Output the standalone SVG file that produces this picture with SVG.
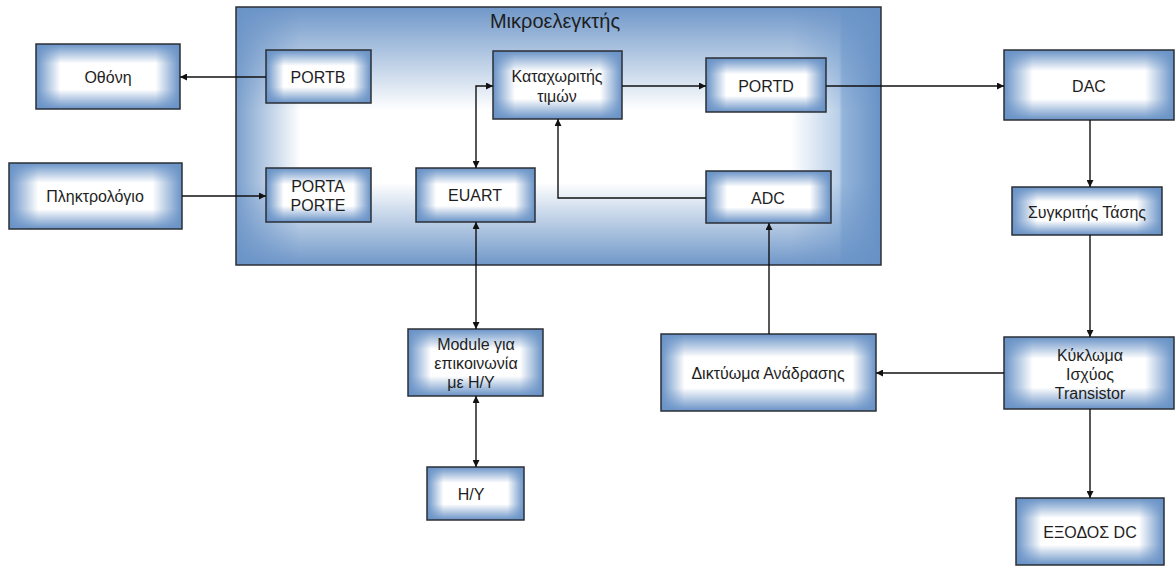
<svg xmlns="http://www.w3.org/2000/svg" width="1175" height="566" viewBox="0 0 1175 566">
<defs>
<linearGradient id="gh" x1="0" y1="0" x2="1" y2="0">
<stop offset="0" stop-color="#6892c6"/><stop offset="0.17" stop-color="#ffffff"/><stop offset="0.83" stop-color="#ffffff"/><stop offset="1" stop-color="#6892c6"/>
</linearGradient>
<linearGradient id="ghw" x1="0" y1="0" x2="1" y2="0">
<stop offset="0" stop-color="#6892c6"/><stop offset="0.11" stop-color="#ffffff"/><stop offset="0.89" stop-color="#ffffff"/><stop offset="1" stop-color="#6892c6"/>
</linearGradient>
<linearGradient id="gv" x1="0" y1="0" x2="0" y2="1">
<stop offset="0" stop-color="#6892c6" stop-opacity="1"/><stop offset="0.3" stop-color="#6892c6" stop-opacity="0"/><stop offset="0.7" stop-color="#6892c6" stop-opacity="0"/><stop offset="1" stop-color="#6892c6" stop-opacity="1"/>
</linearGradient>
<linearGradient id="ch" x1="0" y1="0" x2="1" y2="0">
<stop offset="0" stop-color="#7ba0cd"/><stop offset="0.1" stop-color="#ffffff"/><stop offset="0.86" stop-color="#ffffff"/><stop offset="0.935" stop-color="#b9cfe8"/><stop offset="0.94" stop-color="#95b5da"/><stop offset="1" stop-color="#6892c6"/>
</linearGradient>
<linearGradient id="cv" x1="0" y1="0" x2="0" y2="1">
<stop offset="0" stop-color="#6892c6" stop-opacity="0.95"/><stop offset="0.4" stop-color="#6892c6" stop-opacity="0"/><stop offset="0.68" stop-color="#6892c6" stop-opacity="0"/><stop offset="1" stop-color="#6892c6" stop-opacity="0.95"/>
</linearGradient>
<marker id="ar" viewBox="0 0 10 10" refX="10" refY="5" markerWidth="8" markerHeight="7" markerUnits="userSpaceOnUse" orient="auto-start-reverse">
<path d="M0,0 L10,5 L0,10 z" fill="#111"/>
</marker>
<style>
.bh{fill:url(#gh)}
.bhw{fill:url(#ghw)}
.bv{fill:url(#gv);stroke:#2b2f36;stroke-width:1.5}
.t{font-family:"Liberation Sans",Arial,sans-serif;font-size:16px;fill:#1e1e1e;text-anchor:middle;dominant-baseline:central}
.ttl{font-size:20px}
.c{fill:none;stroke:#111;stroke-width:1.4}
</style>
</defs>

<g id="mikroelegktis">
<rect x="236" y="7" width="645" height="258" fill="url(#ch)"/>
<rect x="236" y="7" width="645" height="258" fill="url(#cv)" stroke="#2b2f36" stroke-width="1.5"/>
<text class="t ttl" x="555" y="21">Μικροελεγκτής</text>
</g>

<g id="othoni"><rect class="bh" x="36" y="44" width="144" height="65"/><rect class="bv" x="36" y="44" width="144" height="65"/><text class="t" x="108" y="77">Οθόνη</text></g>
<g id="pliktrologio"><rect class="bh" x="9" y="163" width="173" height="66"/><rect class="bv" x="9" y="163" width="173" height="66"/><text class="t" x="95" y="196">Πληκτρολόγιο</text></g>
<g id="portb"><rect class="bh" x="266" y="50" width="105" height="53"/><rect class="bv" x="266" y="50" width="105" height="53"/><text class="t" x="318" y="77">PORTB</text></g>
<g id="porta"><rect class="bh" x="266" y="168" width="105" height="54"/><rect class="bv" x="266" y="168" width="105" height="54"/><text class="t" x="318" y="186">PORTA</text><text class="t" x="318" y="205">PORTE</text></g>
<g id="kataxoritis"><rect class="bh" x="493" y="51" width="129" height="68"/><rect class="bv" x="493" y="51" width="129" height="68"/><text class="t" x="557" y="76">Καταχωριτής</text><text class="t" x="557" y="96">τιμών</text></g>
<g id="portd"><rect class="bh" x="706" y="58" width="120" height="54"/><rect class="bv" x="706" y="58" width="120" height="54"/><text class="t" x="766" y="86">PORTD</text></g>
<g id="euart"><rect class="bh" x="416" y="168" width="119" height="54"/><rect class="bv" x="416" y="168" width="119" height="54"/><text class="t" x="475" y="195">EUART</text></g>
<g id="adc"><rect class="bh" x="706" y="171" width="125" height="52"/><rect class="bv" x="706" y="171" width="125" height="52"/><text class="t" x="768" y="198">ADC</text></g>
<g id="dac"><rect class="bh" x="1004" y="50" width="170" height="70"/><rect class="bv" x="1004" y="50" width="170" height="70"/><text class="t" x="1089" y="86">DAC</text></g>
<g id="sygkritis"><rect class="bh" x="1012" y="187" width="150" height="48"/><rect class="bv" x="1012" y="187" width="150" height="48"/><text class="t" x="1087" y="212">Συγκριτής Τάσης</text></g>
<g id="kykloma"><rect class="bh" x="1004" y="337" width="170" height="72"/><rect class="bv" x="1004" y="337" width="170" height="72"/><text class="t" x="1090" y="355">Κύκλωμα</text><text class="t" x="1090" y="374">Ισχύος</text><text class="t" x="1090" y="393">Transistor</text></g>
<g id="exodos"><rect class="bh" x="1016" y="498" width="148" height="67"/><rect class="bv" x="1016" y="498" width="148" height="67"/><text class="t" x="1090" y="532">ΕΞΟΔΟΣ DC</text></g>
<g id="module"><rect class="bh" x="408" y="329" width="135" height="67"/><rect class="bv" x="408" y="329" width="135" height="67"/><text class="t" x="476" y="344">Module για</text><text class="t" x="476" y="363">επικοινωνία</text><text class="t" x="471" y="382">με Η/Υ</text></g>
<g id="hy"><rect class="bh" x="427" y="467" width="97" height="53"/><rect class="bv" x="427" y="467" width="97" height="53"/><text class="t" x="471" y="494">Η/Υ</text></g>
<g id="diktyoma"><rect class="bhw" x="661" y="334" width="215" height="77"/><rect class="bv" x="661" y="334" width="215" height="77"/><text class="t" x="768" y="373">Δικτύωμα Ανάδρασης</text></g>

<g id="connectors">
<path class="c" d="M266,77 H180" marker-end="url(#ar)"/>
<path class="c" d="M182,196 H266" marker-end="url(#ar)"/>
<path class="c" d="M476,168 V86 H493" marker-start="url(#ar)" marker-end="url(#ar)"/>
<path class="c" d="M622,86 H706" marker-end="url(#ar)"/>
<path class="c" d="M706,198 H558 V119" marker-end="url(#ar)"/>
<path class="c" d="M826,86 H1004" marker-end="url(#ar)"/>
<path class="c" d="M1090,120 V187" marker-end="url(#ar)"/>
<path class="c" d="M1090,235 V337" marker-end="url(#ar)"/>
<path class="c" d="M1090,409 V498" marker-end="url(#ar)"/>
<path class="c" d="M1004,373 H876" marker-end="url(#ar)"/>
<path class="c" d="M769,334 V223" marker-end="url(#ar)"/>
<path class="c" d="M476,222 V329" marker-start="url(#ar)" marker-end="url(#ar)"/>
<path class="c" d="M476,396 V467" marker-start="url(#ar)" marker-end="url(#ar)"/>
</g>
</svg>
